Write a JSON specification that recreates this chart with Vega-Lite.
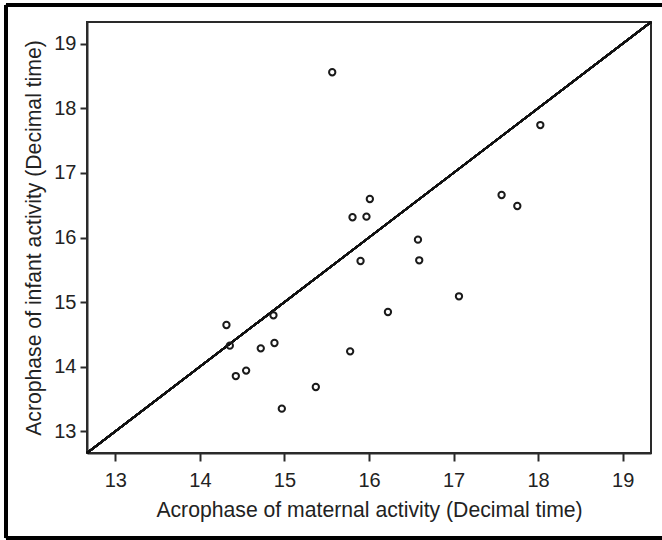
{
  "$schema": "https://vega.github.io/schema/vega-lite/v6.json",
  "width": 564,
  "height": 431,
  "autosize": "none",
  "padding": {"left": 87, "top": 22, "right": 11, "bottom": 87},
  "background": "white",
  "config": {
    "view": {"stroke": "#2a2a2a", "strokeWidth": 2},
    "font": "Liberation Sans",
    "axis": {
      "domainColor": "#2a2a2a",
      "domainWidth": 2,
      "tickColor": "#2a2a2a",
      "tickWidth": 2,
      "labelColor": "#222222",
      "titleColor": "#222222",
      "labelFont": "Liberation Sans",
      "titleFont": "Liberation Sans",
      "labelFontSize": 20,
      "titleFontSize": 21.2,
      "titleFontWeight": "normal",
      "grid": false
    }
  },
  "data": {
    "values": [
      {"maternal": 15.565, "infant": 18.557},
      {"maternal": 18.026, "infant": 17.74},
      {"maternal": 17.568, "infant": 16.658},
      {"maternal": 17.754, "infant": 16.488},
      {"maternal": 16.01, "infant": 16.596},
      {"maternal": 15.805, "infant": 16.313},
      {"maternal": 15.97, "infant": 16.323},
      {"maternal": 16.579, "infant": 15.967},
      {"maternal": 15.9, "infant": 15.636},
      {"maternal": 16.594, "infant": 15.647},
      {"maternal": 17.064, "infant": 15.09},
      {"maternal": 16.224, "infant": 14.847},
      {"maternal": 15.777, "infant": 14.238},
      {"maternal": 15.371, "infant": 13.686},
      {"maternal": 14.969, "infant": 13.351},
      {"maternal": 14.87, "infant": 14.796},
      {"maternal": 14.882, "infant": 14.367},
      {"maternal": 14.72, "infant": 14.285},
      {"maternal": 14.314, "infant": 14.646},
      {"maternal": 14.354, "infant": 14.326},
      {"maternal": 14.425, "infant": 13.856},
      {"maternal": 14.547, "infant": 13.94}
    ]
  },
  "layer": [
    {
      "mark": {"type": "rule", "color": "#000000", "strokeWidth": 2.5, "clip": false},
      "encoding": {
        "x": {"datum": 11.707, "type": "quantitative"},
        "x2": {"datum": 19.75},
        "y": {"datum": 19.598, "type": "quantitative"}
      }
    },
    {
      "mark": {"type": "rule", "color": "#000000", "strokeWidth": 2.5, "clip": false},
      "encoding": {
        "x": {"datum": 11.707, "type": "quantitative"},
        "x2": {"datum": 19.75},
        "y": {"datum": 11.35, "type": "quantitative"}
      }
    },
    {
      "mark": {"type": "rule", "color": "#000000", "strokeWidth": 2.5, "clip": false},
      "encoding": {
        "x": {"datum": 11.707, "type": "quantitative"},
        "y": {"datum": 19.598, "type": "quantitative"},
        "y2": {"datum": 11.35}
      }
    },
    {
      "mark": {"type": "rule", "color": "#111111", "strokeWidth": 1.6},
      "encoding": {
        "x": {"datum": 12.665, "type": "quantitative"},
        "y": {"datum": 12.665, "type": "quantitative"},
        "x2": {"datum": 19.335},
        "y2": {"datum": 19.335}
      }
    },
    {
      "mark": {"type": "point", "shape": "circle", "filled": false, "size": 40, "strokeWidth": 2, "color": "#1a1a1a", "opacity": 1},
      "encoding": {
        "x": {
          "field": "maternal",
          "type": "quantitative",
          "scale": {"domain": [12.665, 19.335], "nice": false, "zero": false},
          "axis": {
            "values": [13, 14, 15, 16, 17, 18, 19],
            "format": "d",
            "tickSize": 8,
            "labelPadding": 9,
            "title": "Acrophase of maternal activity (Decimal time)",
            "titlePadding": 9
          }
        },
        "y": {
          "field": "infant",
          "type": "quantitative",
          "scale": {"domain": [12.665, 19.335], "nice": false, "zero": false},
          "axis": {
            "values": [13, 14, 15, 16, 17, 18, 19],
            "format": "d",
            "tickSize": 7,
            "labelPadding": 4,
            "title": "Acrophase of infant activity (Decimal time)",
            "titlePadding": 9
          }
        }
      }
    }
  ]
}
